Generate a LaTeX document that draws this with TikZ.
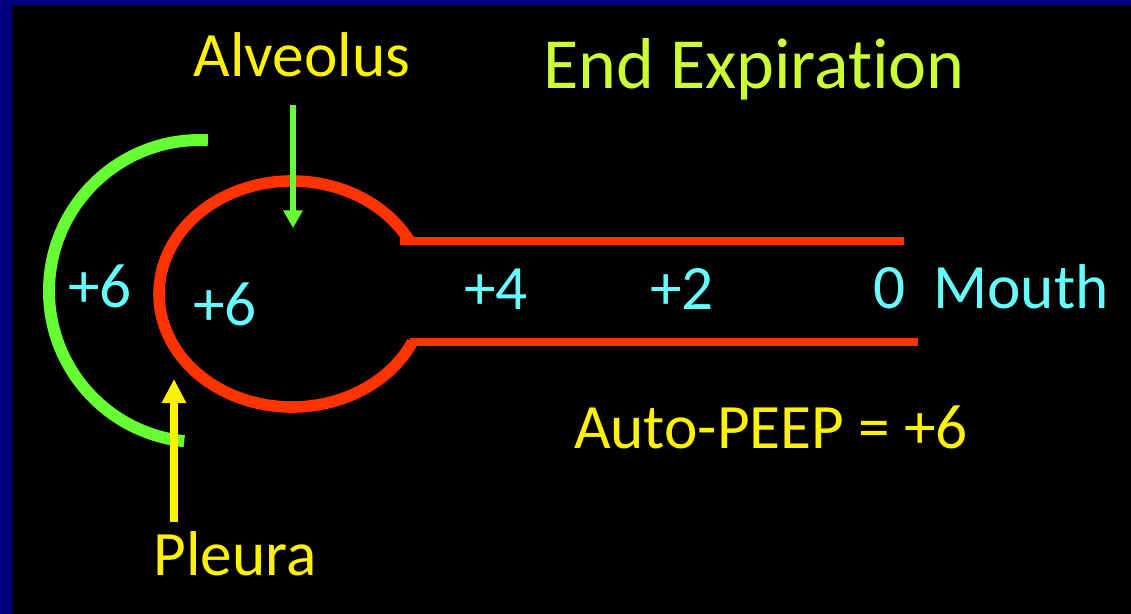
\documentclass[tikz,border=0pt]{standalone}
\usepackage{fontspec}
\setmainfont{Carlito}[Ligatures=NoCommon]
\usetikzlibrary{arrows.meta}
\definecolor{framebl}{RGB}{0,0,130}
\definecolor{lunggreen}{RGB}{102,255,51}
\definecolor{airred}{RGB}{255,51,0}
\definecolor{valcyan}{RGB}{102,255,255}
\definecolor{titlelime}{RGB}{204,255,51}
\begin{document}
\begin{tikzpicture}[x=0.02cm,y=0.02cm,
  every node/.style={inner sep=0pt,anchor=base,font=\fontsize{36}{40}\selectfont},
  val/.style={text=valcyan},lbl/.style={text=yellow}]
  % frame
  \useasboundingbox (0,0) rectangle (1131,613);
  \fill[black] (-2,-2) rectangle (1133,615);
  \fill[framebl] (-2,608) rectangle (1133,615);
  \fill[framebl] (-2,-2) rectangle (12,615);
  % pleura
  \draw[lunggreen,line width=6.8pt] (200,322) ++(87:151) arc[start angle=87,end angle=264,radius=151];
  % alveolus and airway
  \draw[airred,line width=6.6pt] (292,319) ++(28:133 and 113) arc[start angle=28,end angle=335,x radius=133,y radius=113];
  \draw[airred,line width=4.6pt] (400,372) -- (904,372);
  \draw[airred,line width=4.6pt] (410,271) -- (918,271);
  % labels
  \node[lbl] (alv) at (302,537) {Alveolus};
  \node[text=titlelime,font=\fontsize{41}{46}\selectfont] (title) at (754,524) {End Expiration};
  \node[val] (pl6) at (100,306) {+6};
  \node[val] (al6) at (225,288) {+6};
  \node[val] (aw4) at (496,304) {+4};
  \node[val] (aw2) at (682,304) {+2};
  \node[val] (aw0) at (890,305) {0};
  \node[val] (mouth) at (1021,305) {Mouth};
  \node[lbl] (peep) at (771,165) {Auto-PEEP = +6};
  \node[lbl] (pleura) at (235,38) {Pleura};
  % arrows
  \coordinate (alvtail) at (293,508);
  \coordinate (alvtip) at (293,385);
  \draw[lunggreen,line width=3.4pt,-{Triangle[width=10.5pt,length=10pt]}] (alvtail) -- (alvtip);
  \coordinate (pltail) at (174,91);
  \coordinate (pltip) at (174,234);
  \draw[yellow,line width=4.5pt,-{Triangle[width=13pt,length=13.6pt]}] (pltail) -- (pltip);
\end{tikzpicture}
\end{document}
